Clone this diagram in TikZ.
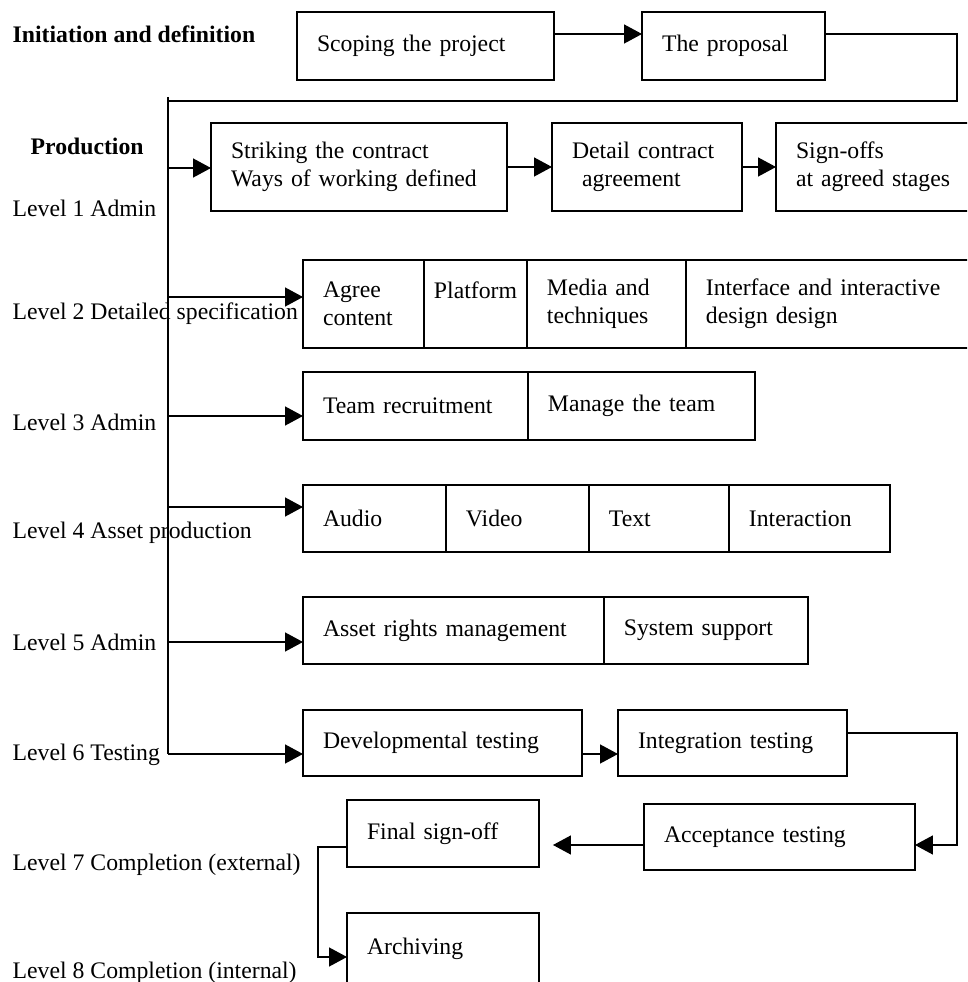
\documentclass[tikz,border=0pt]{standalone}
\usepackage{fontspec}
\setmainfont{Liberation Serif}
\usetikzlibrary{arrows.meta,positioning}

\tikzset{
    cell/.style={draw, outer sep=0pt, inner xsep=0.4cm, inner ysep=0pt, align=left, anchor=north west},
    arr/.style={-{Triangle[length=0.36cm,width=0.38cm]}},
    level/.style={anchor=base west, inner sep=0pt},
    heading/.style={level, font=\fontsize{13.5}{16}\selectfont\bfseries}
}

\begin{document}
\begin{tikzpicture}[x=0.02cm, y=-0.02cm, line width=0.8pt, font=\fontsize{13.5}{16}\selectfont]
    \useasboundingbox (0,0) rectangle (967,982);
    \clip (0,0) rectangle (967,982);
    \node[heading] (init) at (12,43) {Initiation and definition};
    \node[heading] (prod) at (30,155) {Production};
    \foreach \i/\y/\t in {1/217/Admin, 2/320/Detailed specification, 3/430/Admin, 4/538/Asset production,
        5/650/Admin, 6/760/Testing, 7/870/Completion (external), 8/978/Completion (internal)}{
        \node[level] (lev\i) at (12,\y) {Level \i\ \t};
    }

    \node[cell, text width=4.34cm, minimum height=1.36cm] (scope) at (297,12) {Scoping the project};
    \node[cell, text width=2.86cm, minimum height=1.36cm] (proposal) at (642,12) {The proposal};

    \node[cell, text width=5.12cm, minimum height=1.76cm] (strike) at (211,123) {Striking the contract\\Ways of working defined};
    \node[cell, text width=3.0cm, minimum height=1.76cm] (detail) at (552,123) {Detail contract\\\hspace{0.2cm}agreement};
    \node[cell, text width=3.2cm, minimum height=1.76cm] (signoff) at (776,123) {Sign-offs\\at agreed stages};

    \node[cell, text width=1.62cm, minimum height=1.76cm] (spec1) at (303,260) {Agree\\content};
    \node[cell, text width=1.66cm, minimum height=1.76cm, inner xsep=0.2cm, right=0pt of spec1] (spec2) {Platform\\\mbox{}};
    \node[cell, text width=2.38cm, minimum height=1.76cm, right=0pt of spec2] (spec3) {Media and\\techniques};
    \node[cell, text width=5.0cm, minimum height=1.76cm, right=0pt of spec3] (spec4) {Interface and interactive\\design design};

    \node[cell, text width=3.7cm, minimum height=1.36cm] (team1) at (303,372) {Team recruitment};
    \node[cell, text width=3.74cm, minimum height=1.36cm, right=0pt of team1] (team2) {Manage the team};

    \node[cell, text width=2.06cm, minimum height=1.34cm] (asset1) at (303,485) {Audio};
    \node[cell, text width=2.06cm, minimum height=1.34cm, right=0pt of asset1] (asset2) {Video};
    \node[cell, text width=2.0cm, minimum height=1.34cm, right=0pt of asset2] (asset3) {Text};
    \node[cell, text width=2.42cm, minimum height=1.34cm, right=0pt of asset3] (asset4) {Interaction};

    \node[cell, text width=5.22cm, minimum height=1.34cm] (rights) at (303,597) {Asset rights management};
    \node[cell, text width=3.28cm, minimum height=1.34cm, right=0pt of rights] (support) {System support};

    \node[cell, text width=4.78cm, minimum height=1.32cm] (devtest) at (303,710) {Developmental testing};
    \node[cell, text width=3.78cm, minimum height=1.32cm] (inttest) at (618,710) {Integration testing};
    \node[cell, text width=4.62cm, minimum height=1.32cm] (accept) at (644,804) {Acceptance testing};
    \node[cell, text width=3.04cm, minimum height=1.34cm] (final) at (347,800) {Final sign-off};
    \node[cell, text width=3.04cm, minimum height=1.44cm] (archive) at (347,913) {Archiving};

    % initiation feeds the production spine
    \draw[arr] ([yshift=-0.44cm]scope.north east) -- ([yshift=-0.44cm]proposal.north west);
    \coordinate (top) at (168,97);
    \coordinate (back) at (168,101);
    \coordinate (bottom) at (168,754);
    \draw ([yshift=-0.44cm]proposal.north east) -| (957,101) -- (back);
    \draw (top) -- (bottom);
    \foreach \i/\y in {1/168, 2/297, 3/416, 4/507, 5/642, 6/754}
        \coordinate (s\i) at (168,\y);
    \foreach \s/\b in {s1/strike, s2/spec1, s3/team1, s4/asset1, s5/rights, s6/devtest}
        \draw[arr] (\s) -- (\s -| \b.west);

    \draw[arr] (strike.east) -- (detail.west);
    \draw[arr] (detail.east) -- (signoff.west);
    \draw[arr] ([yshift=-0.22cm]devtest.east) -- ([yshift=-0.22cm]inttest.west);
    \draw[arr] ([yshift=-0.46cm]inttest.north east) -| ([xshift=0.84cm,yshift=-0.16cm]accept.east) -- ([yshift=-0.16cm]accept.east);
    \coordinate (accin) at ([yshift=-0.16cm]accept.west);
    \draw[arr, shorten >=0.28cm] (accin) -- (accin -| final.east);
    \draw[arr] ([yshift=-0.27cm]final.west) -- ++(-29,0) |- ([yshift=-0.16cm]archive.west);
\end{tikzpicture}
\end{document}
